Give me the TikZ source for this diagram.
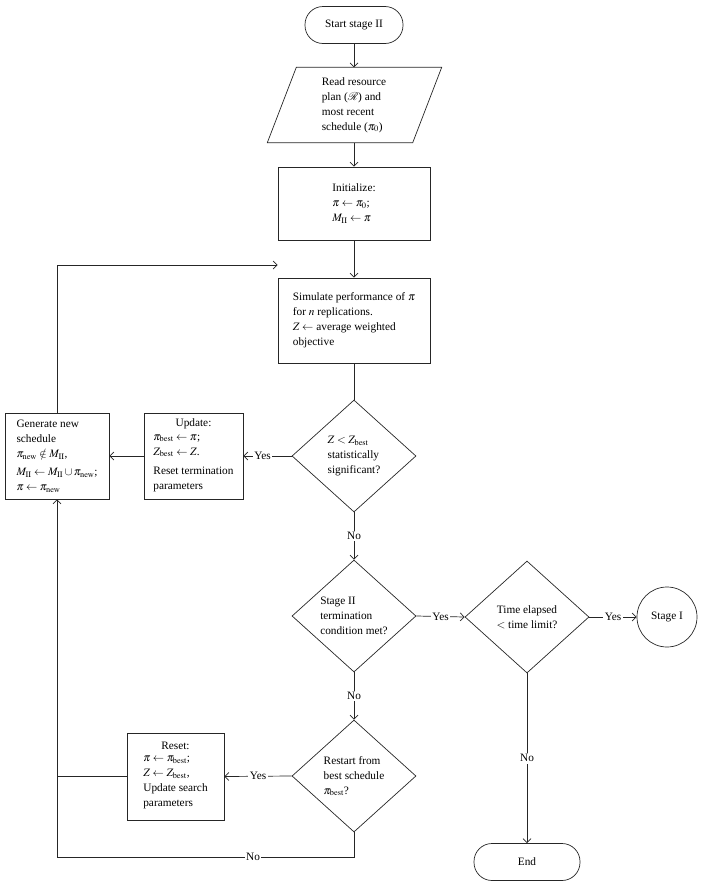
\documentclass[tikz,border=0pt]{standalone}
\usepackage{mathptmx}
\usepackage{fontspec}
\setmainfont{Liberation Serif}
\usetikzlibrary{shapes.geometric,arrows.meta,calc}
\begin{document}
\begin{tikzpicture}[x=1pt,y=-1pt,
  every node/.style={font=\fontsize{11.3}{15}\selectfont},
  line/.style={draw=black!85, line width=0.7pt},
  arr/.style={line, -{Straight Barb[length=4pt,width=8pt]}},
  proc/.style={draw=black!85, line width=0.7pt, rectangle, align=left, inner sep=0pt},
  term/.style={draw=black!85, line width=0.7pt, rectangle, rounded corners=18pt, minimum height=37pt},
  decision/.style={draw=black!85, line width=0.7pt, diamond, inner sep=0pt, align=left, minimum width=124pt, minimum height=112pt},
  lbl/.style={fill=white, inner sep=1.5pt}
]
\useasboundingbox (0,0) rectangle (703,889);

% nodes
\node[term, minimum width=98pt] (start) at (354,25) {Start stage II};
\node[inner sep=0pt, minimum width=145pt, minimum height=75pt, align=left] (read) at (354,105)
  {Read resource\\plan ($\mathcal{R}$) and\\most recent\\schedule ($\pi_0$)};
\draw[line] ($(read.north west)+(15,0)$) -- ($(read.north east)+(15,0)$)
  -- ($(read.south east)+(-14,0)$) -- ($(read.south west)+(-14,0)$) -- cycle;
\node[proc, minimum width=152pt, minimum height=73pt] (init) at (354,203.5)
  {Initialize:\\$\pi\leftarrow\pi_0$;\\$M_{\mathrm{II}}\leftarrow\pi$};
\node[proc, minimum width=152pt, minimum height=85pt] (sim) at (354,320.5)
  {Simulate performance of $\pi$\\for $n$ replications.\\$Z\leftarrow$ average weighted\\objective};
\node[decision] (d1) at (354,456)
  {$Z<Z_{\mathrm{best}}$\\statistically\\significant?};
\node[proc, minimum width=99pt, minimum height=86pt, align=center] (upd) at (193.5,456)
  {Update:\\[0pt]
   \begin{tabular}{@{}l@{}}$\pi_{\mathrm{best}}\leftarrow\pi$;\\$Z_{\mathrm{best}}\leftarrow Z$.\\[4pt]Reset termination\\parameters\end{tabular}};
\node[proc, minimum width=104pt, minimum height=86pt] (gen) at (57,456)
  {Generate new\\schedule\\$\pi_{\mathrm{new}}\notin M_{\mathrm{II}}$,\\[3pt]$M_{\mathrm{II}}\leftarrow M_{\mathrm{II}}\cup\pi_{\mathrm{new}}$;\\$\pi\leftarrow\pi_{\mathrm{new}}$};
\node[decision] (d2) at (354,616)
  {Stage II\\termination\\condition met?};
\node[decision, align=center] (d3) at (527,617)
  {Time elapsed\\$<$ time limit?};
\node[draw=black!85, line width=0.7pt, circle, minimum size=60pt, inner sep=0pt] (stage1) at (667,617) {Stage I};
\node[term, minimum width=106pt] (end) at (527,862) {End};
\node[decision] (d4) at (354,776)
  {Restart from\\best schedule\\$\pi_{\mathrm{best}}$?};
\node[proc, minimum width=97pt, minimum height=87pt, align=center] (reset) at (175.5,776.5)
  {Reset:\\[0pt]
   \begin{tabular}{@{}l@{}}$\pi\leftarrow\pi_{\mathrm{best}}$;\\$Z\leftarrow Z_{\mathrm{best}}$,\\Update search\\parameters\end{tabular}};

\coordinate (gtop) at (57,265);
\coordinate (rjoin) at (57,776.5);
\coordinate (bot1) at (354,857);
\coordinate (bot2) at (57,857);

% connectors
\draw[arr] (start) -- (read);
\draw[arr] (read) -- (init);
\draw[arr] (init) -- (sim);
\draw[line] (sim) -- (d1);
\draw[arr] (d1.west) -- node[lbl, pos=0.6] {Yes} (upd.east);
\draw[arr] (upd.west) -- (gen.east);
\draw[arr] (gen.north) -- (gtop) -- (gtop -| sim.west);
\draw[arr] (d1.south) -- node[lbl] {No} (d2.north);
\draw[arr] (d2.east) -- node[lbl] {Yes} (d3.west);
\draw[arr] (d3.east) -- node[lbl] {Yes} (stage1.west);
\draw[arr] (d3.south) -- node[lbl] {No} (end.north);
\draw[arr] (d2.south) -- node[lbl] {No} (d4.north);
\draw[arr] (d4.west) -- node[lbl] {Yes} (reset.east);
\draw[line] (reset.west) -- (rjoin);
\draw[arr] (d4.south) -- (bot1) -- node[lbl, pos=0.34] {No} (bot2) -- (gen.south);
\end{tikzpicture}
\end{document}
